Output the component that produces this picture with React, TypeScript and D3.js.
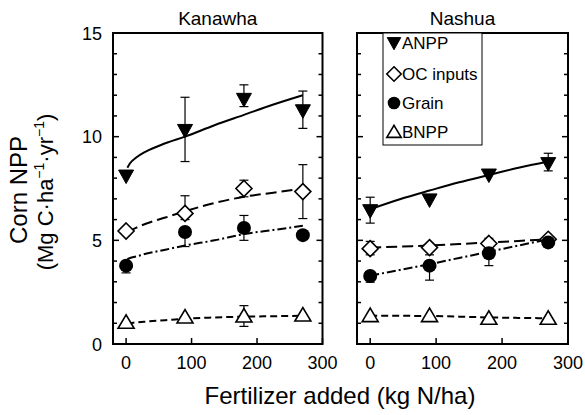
import React from "react";
import * as d3 from "d3";

// ---------- data ----------
const nRates = [0, 90, 180, 270];
const panels = ["Kanawha", "Nashua"];
const seriesNames = ["ANPP", "OC inputs", "Grain", "BNPP"];

// Kanawha observed means and error bars (lower / upper)
const kanANPP = [8.1, 10.3, 11.8, 11.25];
const kanANPPLo = [0, 1.5, 0.35, 0.85];
const kanANPPHi = [0, 1.6, 0.7, 0.95];
const kanOC = [5.45, 6.3, 7.5, 7.35];
const kanOCLo = [0, 0.3, 0.4, 1.3];
const kanOCHi = [0, 0.85, 0.4, 1.3];
const kanGrain = [3.78, 5.4, 5.6, 5.25];
const kanGrainLo = [0.35, 0.7, 0.6, 0.2];
const kanGrainHi = [0, 0, 0.6, 0.15];
const kanBNPP = [1.05, 1.3, 1.35, 1.4];
const kanBNPPLo = [0, 0, 0.5, 0];
const kanBNPPHi = [0, 0, 0.5, 0];

// Nashua observed
const nasANPP = [6.43, 6.95, 8.15, 8.7];
const nasANPPLo = [0.6, 0, 0, 0.35];
const nasANPPHi = [0.65, 0, 0, 0.5];
const nasOC = [4.6, 4.65, 4.85, 5.05];
const nasOCLo = [0.3, 0.35, 0.25, 0];
const nasOCHi = [0.35, 0, 0.25, 0];
const nasGrain = [3.28, 3.78, 4.38, 4.9];
const nasGrainLo = [0.3, 0.7, 0.6, 0.2];
const nasGrainHi = [0, 0, 0, 0];
const nasBNPP = [1.37, 1.37, 1.24, 1.24];
const nasBNPPLo = [0, 0, 0, 0];
const nasBNPPHi = [0, 0, 0, 0];

// fitted curves
const fitXK = [2, 6, 15, 30, 60, 90, 135, 180, 225, 270];
const kanANPPFit = [8.5, 8.72, 8.98, 9.28, 9.68, 10.0, 10.55, 11.05, 11.55, 12.0];
const kanOCFit = [5.4, 5.47, 5.6, 5.8, 6.1, 6.4, 6.8, 7.1, 7.3, 7.5];
const kanGrainFit = [4.1, 4.15, 4.22, 4.35, 4.55, 4.75, 5.0, 5.3, 5.5, 5.7];
const kanBNPPFit = [1.0, 1.01, 1.04, 1.08, 1.15, 1.22, 1.28, 1.32, 1.34, 1.36];

const fitXN = [0, 45, 90, 135, 180, 225, 270];
const nasANPPFit = [6.5, 6.98, 7.4, 7.8, 8.15, 8.5, 8.8];
const nasOCFit = [4.65, 4.7, 4.75, 4.82, 4.9, 4.97, 5.05];
const nasGrainFit = [3.3, 3.57, 3.85, 4.15, 4.45, 4.75, 5.05];
const nasBNPPFit = [1.37, 1.36, 1.35, 1.32, 1.28, 1.26, 1.24];

const xTicks = [0, 100, 200, 300];
const yTicks = [0, 5, 10, 15];
const yMinor = d3.range(0, 16);

// ---------- layout ----------
const W = 585;
const H = 415;
const top = 33;
const bottom = 344;
const panelX = [
  [113, 322.5],
  [357, 568],
];
const FONT = "'Liberation Sans', Arial, Helvetica, sans-serif";

const dashes = ["none", "11,5", "9,3,2,3", "7,4"];

type Series = { v: number[]; lo: number[]; hi: number[]; fit: number[] };

const panelData: { fitX: number[]; series: Series[] }[] = [
  {
    fitX: fitXK,
    series: [
      { v: kanANPP, lo: kanANPPLo, hi: kanANPPHi, fit: kanANPPFit },
      { v: kanOC, lo: kanOCLo, hi: kanOCHi, fit: kanOCFit },
      { v: kanGrain, lo: kanGrainLo, hi: kanGrainHi, fit: kanGrainFit },
      { v: kanBNPP, lo: kanBNPPLo, hi: kanBNPPHi, fit: kanBNPPFit },
    ],
  },
  {
    fitX: fitXN,
    series: [
      { v: nasANPP, lo: nasANPPLo, hi: nasANPPHi, fit: nasANPPFit },
      { v: nasOC, lo: nasOCLo, hi: nasOCHi, fit: nasOCFit },
      { v: nasGrain, lo: nasGrainLo, hi: nasGrainHi, fit: nasGrainFit },
      { v: nasBNPP, lo: nasBNPPLo, hi: nasBNPPHi, fit: nasBNPPFit },
    ],
  },
];

function Marker({ kind, x, y, s = 1 }: { kind: number; x: number; y: number; s?: number }) {
  if (kind === 0) {
    return (
      <path
        d={`M${x - 7.5 * s},${y - 6 * s}L${x + 7.5 * s},${y - 6 * s}L${x},${y + 7.5 * s}Z`}
        fill="#000"
        stroke="#000"
        strokeWidth={1}
      />
    );
  }
  if (kind === 1) {
    return (
      <path
        d={`M${x},${y - 8 * s}L${x + 8 * s},${y}L${x},${y + 8 * s}L${x - 8 * s},${y}Z`}
        fill="#fff"
        stroke="#000"
        strokeWidth={1.6}
      />
    );
  }
  if (kind === 2) {
    return <circle cx={x} cy={y} r={7 * s} fill="#000" />;
  }
  return (
    <path
      d={`M${x - 8 * s},${y + 6 * s}L${x + 8 * s},${y + 6 * s}L${x},${y - 7.5 * s}Z`}
      fill="#fff"
      stroke="#000"
      strokeWidth={1.6}
    />
  );
}

function Panel({ idx }: { idx: number }) {
  const [x0, x1] = panelX[idx];
  const x = d3.scaleLinear().domain([-20, 300]).range([x0, x1]);
  const y = d3.scaleLinear().domain([0, 15]).range([bottom, top]);
  const pd = panelData[idx];
  const line = d3
    .line<[number, number]>()
    .x((d) => x(d[0]))
    .y((d) => y(d[1]))
    .curve(d3.curveMonotoneX);

  return (
    <g>
      {pd.series.map((s, si) => (
        <path
          key={"f" + si}
          d={line(pd.fitX.map((fx, i) => [fx, s.fit[i]] as [number, number])) || ""}
          fill="none"
          stroke="#000"
          strokeWidth={2}
          strokeDasharray={dashes[si]}
        />
      ))}
      {pd.series.map((s, si) =>
        nRates.map((r, i) => {
          const cx = x(r);
          const els: React.ReactNode[] = [];
          if (s.hi[i] > 0) {
            const yy = y(s.v[i] + s.hi[i]);
            els.push(
              <line key="hv" x1={cx} x2={cx} y1={y(s.v[i])} y2={yy} stroke="#000" strokeWidth={1.2} />,
              <line key="hc" x1={cx - 4.5} x2={cx + 4.5} y1={yy} y2={yy} stroke="#000" strokeWidth={1.2} />
            );
          }
          if (s.lo[i] > 0) {
            const yy = y(s.v[i] - s.lo[i]);
            els.push(
              <line key="lv" x1={cx} x2={cx} y1={y(s.v[i])} y2={yy} stroke="#000" strokeWidth={1.2} />,
              <line key="lc" x1={cx - 4.5} x2={cx + 4.5} y1={yy} y2={yy} stroke="#000" strokeWidth={1.2} />
            );
          }
          return <g key={"e" + si + "-" + i}>{els}</g>;
        })
      )}
      {pd.series.map((s, si) =>
        nRates.map((r, i) => <Marker key={"m" + si + "-" + i} kind={si} x={x(r)} y={y(s.v[i])} />)
      )}
      <rect x={x0} y={top} width={x1 - x0} height={bottom - top} fill="none" stroke="#000" strokeWidth={2} />
      {yMinor.map((t) => {
        const len = yTicks.includes(t) ? 6 : 4;
        return (
          <g key={"yt" + t}>
            <line x1={x0} x2={x0 + len} y1={y(t)} y2={y(t)} stroke="#000" strokeWidth={1.5} />
            <line x1={x1} x2={x1 - len} y1={y(t)} y2={y(t)} stroke="#000" strokeWidth={1.5} />
          </g>
        );
      })}
      {xTicks.map((t) => (
        <g key={"xt" + t}>
          <line x1={x(t)} x2={x(t)} y1={bottom} y2={bottom - 6} stroke="#000" strokeWidth={1.5} />
          <text x={x(t)} y={369} textAnchor="middle" fontSize={18} fontFamily={FONT}>
            {t}
          </text>
        </g>
      ))}
      {idx === 0 &&
        yTicks.map((t) => (
          <text key={"yl" + t} x={102} y={y(t) + 6.5} textAnchor="end" fontSize={18} fontFamily={FONT}>
            {t}
          </text>
        ))}
      <text x={(x0 + x1) / 2} y={25} textAnchor="middle" fontSize={19} fontFamily={FONT}>
        {panels[idx]}
      </text>
    </g>
  );
}

function Legend() {
  const bx = 383;
  const bw = 99;
  const rows = [49, 80, 109, 138];
  return (
    <g>
      <rect x={bx} y={top} width={bw} height={112} fill="#fff" stroke="#000" strokeWidth={1} />
      {seriesNames.map((n, i) => (
        <g key={n}>
          <Marker kind={i} x={bx + 11} y={rows[i] - 6} s={0.9} />
          <text x={bx + 19} y={rows[i]} fontSize={17} fontFamily={FONT}>
            {n}
          </text>
        </g>
      ))}
    </g>
  );
}

export default function App() {
  return (
    <svg width={W} height={H} style={{ position: "absolute", left: 0, top: 0, background: "#fff" }}>
      <rect width={W} height={H} fill="#fff" />
      <Panel idx={0} />
      <Panel idx={1} />
      <Legend />
      <text x={340} y={404} textAnchor="middle" fontSize={24} fontFamily={FONT}>
        Fertilizer added (kg N/ha)
      </text>
      <text transform="translate(27,190) rotate(-90)" textAnchor="middle" fontSize={24} fontFamily={FONT}>
        Corn NPP
      </text>
      <text transform="translate(53,192) rotate(-90)" textAnchor="middle" fontSize={22} fontFamily={FONT}>
        (Mg C·ha
        <tspan fontSize={14} dy={-9}>−1</tspan>
        <tspan dy={9}>·yr</tspan>
        <tspan fontSize={14} dy={-9}>−1</tspan>
        <tspan dy={9}>)</tspan>
      </text>
    </svg>
  );
}
